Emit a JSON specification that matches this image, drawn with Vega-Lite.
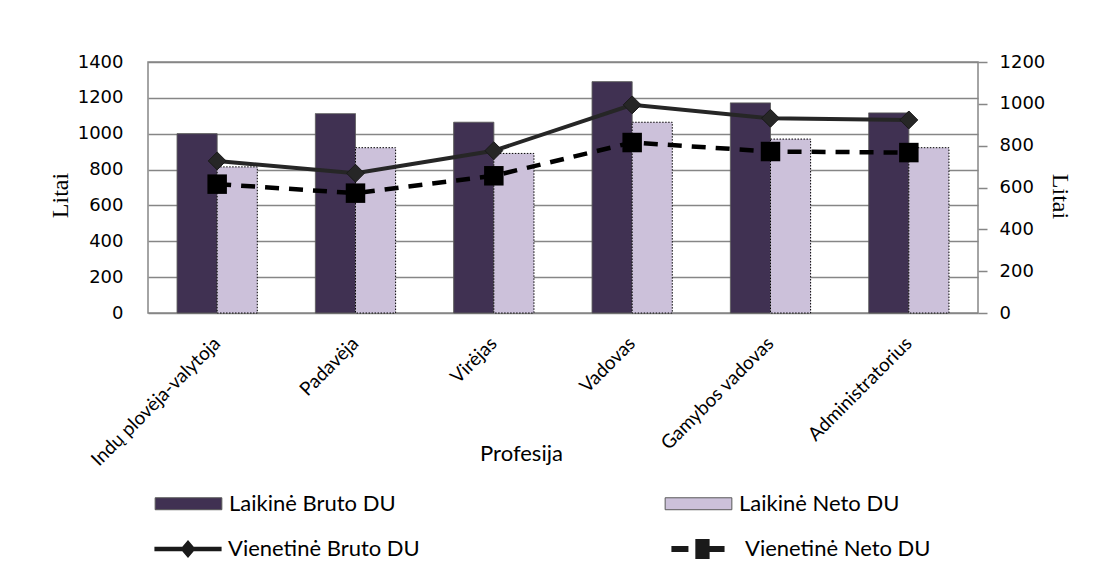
{
  "$schema": "https://vega.github.io/schema/vega-lite/v6.json",
  "width": 830,
  "height": 251,
  "autosize": {"type": "none"},
  "padding": {"left": 148, "top": 62, "right": 116, "bottom": 260},
  "background": "white",
  "config": {
    "view": {"stroke": "#868686", "strokeWidth": 1.5},
    "font": "Lato"
  },
  "data": {
    "values": [
      {"profesija": "Indų plovėja-valytoja", "serija": "Laikinė Bruto DU", "litai": 1000},
      {"profesija": "Indų plovėja-valytoja", "serija": "Laikinė Neto DU", "litai": 815},
      {"profesija": "Indų plovėja-valytoja", "serija": "Vienetinė Bruto DU", "litai": 727},
      {"profesija": "Indų plovėja-valytoja", "serija": "Vienetinė Neto DU", "litai": 616},
      {"profesija": "Padavėja", "serija": "Laikinė Bruto DU", "litai": 1112},
      {"profesija": "Padavėja", "serija": "Laikinė Neto DU", "litai": 922},
      {"profesija": "Padavėja", "serija": "Vienetinė Bruto DU", "litai": 668},
      {"profesija": "Padavėja", "serija": "Vienetinė Neto DU", "litai": 573},
      {"profesija": "Virėjas", "serija": "Laikinė Bruto DU", "litai": 1064},
      {"profesija": "Virėjas", "serija": "Laikinė Neto DU", "litai": 890},
      {"profesija": "Virėjas", "serija": "Vienetinė Bruto DU", "litai": 776},
      {"profesija": "Virėjas", "serija": "Vienetinė Neto DU", "litai": 656},
      {"profesija": "Vadovas", "serija": "Laikinė Bruto DU", "litai": 1290},
      {"profesija": "Vadovas", "serija": "Laikinė Neto DU", "litai": 1064},
      {"profesija": "Vadovas", "serija": "Vienetinė Bruto DU", "litai": 995},
      {"profesija": "Vadovas", "serija": "Vienetinė Neto DU", "litai": 815},
      {"profesija": "Gamybos vadovas", "serija": "Laikinė Bruto DU", "litai": 1172},
      {"profesija": "Gamybos vadovas", "serija": "Laikinė Neto DU", "litai": 970},
      {"profesija": "Gamybos vadovas", "serija": "Vienetinė Bruto DU", "litai": 931},
      {"profesija": "Gamybos vadovas", "serija": "Vienetinė Neto DU", "litai": 772},
      {"profesija": "Administratorius", "serija": "Laikinė Bruto DU", "litai": 1116},
      {"profesija": "Administratorius", "serija": "Laikinė Neto DU", "litai": 922},
      {"profesija": "Administratorius", "serija": "Vienetinė Bruto DU", "litai": 923},
      {"profesija": "Administratorius", "serija": "Vienetinė Neto DU", "litai": 767}
    ]
  },
  "encoding": {
    "x": {
      "field": "profesija",
      "type": "nominal",
      "sort": null,
      "scale": {"paddingInner": 0.42, "paddingOuter": 0.21},
      "axis": {
        "title": "Profesija",
        "labelAngle": -45,
        "labelAlign": "right",
        "labelBaseline": "middle",
        "labelPadding": 27,
        "ticks": false,
        "domain": false,
        "labelFont": "Lato",
        "labelFontSize": 19,
        "labelColor": "#000",
        "labelLimit": 400,
        "titleFont": "Lato",
        "titleFontSize": 22,
        "titleFontWeight": "normal",
        "titleColor": "#000",
        "titleX": 373,
        "titleY": 140,
        "titleBaseline": "middle"
      }
    }
  },
  "layer": [
    {
      "transform": [{"filter": {"field": "serija", "oneOf": ["Laikinė Bruto DU", "Laikinė Neto DU"]}}],
      "mark": {"type": "bar", "strokeWidth": 1, "opacity": 1},
      "encoding": {
        "xOffset": {"field": "serija", "type": "nominal", "sort": ["Laikinė Bruto DU", "Laikinė Neto DU"]},
        "y": {
          "field": "litai",
          "type": "quantitative",
          "scale": {"domain": [0, 1400], "nice": false},
          "axis": {
            "orient": "left",
            "title": "Litai",
            "values": [0, 200, 400, 600, 800, 1000, 1200, 1400],
            "format": "d",
            "grid": true,
            "gridColor": "#868686",
            "gridWidth": 1.5,
            "domain": false,
            "ticks": false,
            "tickSize": 0,
            "labelPadding": 25,
            "labelFont": "DejaVu Sans",
            "labelFontSize": 18,
            "labelColor": "#000",
            "titleFont": "Liberation Serif",
            "titleFontSize": 24,
            "titleFontWeight": "normal",
            "titleColor": "#000",
            "titlePadding": 5,
            "titleY": 133
          }
        },
        "color": {
          "field": "serija",
          "type": "nominal",
          "scale": {
            "domain": ["Laikinė Bruto DU", "Laikinė Neto DU"],
            "range": ["#403152", "#ccc1da"]
          },
          "legend": {
            "orient": "none",
            "direction": "horizontal",
            "legendX": 17,
            "legendY": 418,
            "columns": 2,
            "columnPadding": 267,
            "padding": 0,
            "title": null,
            "symbolSize": 2116,
            "symbolType": "M-1.45,-0.26H1.45V0.26H-1.45Z",
            "symbolStrokeWidth": 1,
            "symbolStrokeColor": "#595959",
            "symbolOpacity": 1,
            "labelOffset": 17,
            "labelFont": "Lato",
            "labelFontSize": 22,
            "labelColor": "#000",
            "labelLimit": 400
          }
        },
        "stroke": {
          "condition": {"test": "datum.serija == 'Laikinė Neto DU'", "value": "#000000"},
          "value": "#595959"
        },
        "strokeDash": {
          "condition": {"test": "datum.serija == 'Laikinė Neto DU'", "value": [1.5, 1.5]},
          "value": [1, 0]
        }
      }
    },
    {
      "encoding": {
        "y": {
          "field": "litai",
          "type": "quantitative",
          "scale": {"domain": [0, 1200], "nice": false},
          "axis": {
            "orient": "right",
            "title": "Litai",
            "values": [0, 200, 400, 600, 800, 1000, 1200],
            "format": "d",
            "grid": false,
            "domain": false,
            "ticks": true,
            "tickSize": 9,
            "tickColor": "#868686",
            "tickWidth": 1.5,
            "labelPadding": 12,
            "labelFont": "DejaVu Sans",
            "labelFontSize": 18,
            "labelColor": "#000",
            "titleFont": "Liberation Serif",
            "titleFontSize": 24,
            "titleFontWeight": "normal",
            "titleColor": "#000",
            "titlePadding": 3,
            "titleY": 134
          }
        }
      },
      "layer": [
        {
          "transform": [{"filter": {"field": "serija", "equal": "Vienetinė Bruto DU"}}],
          "mark": {"type": "line", "strokeWidth": 4, "color": "#262626"}
        },
        {
          "transform": [{"filter": {"field": "serija", "equal": "Vienetinė Neto DU"}}],
          "mark": {"type": "line", "strokeWidth": 4.5, "strokeDash": [14, 10], "color": "#000000"}
        },
        {
          "transform": [{"filter": {"field": "serija", "equal": "Vienetinė Bruto DU"}}],
          "mark": {"type": "point", "shape": "diamond", "filled": true, "size": 320, "opacity": 1, "color": "#262626", "stroke": "#1a1a1a", "strokeWidth": 1}
        },
        {
          "transform": [{"filter": {"field": "serija", "equal": "Vienetinė Neto DU"}}],
          "mark": {"type": "point", "shape": "square", "filled": true, "size": 380, "opacity": 1, "color": "#000000"}
        },
        {
          "transform": [{"filter": {"field": "serija", "oneOf": ["Vienetinė Bruto DU", "Vienetinė Neto DU"]}}],
          "mark": {"type": "point", "filled": true, "opacity": 0, "color": "#1a1a1a"},
          "encoding": {
            "shape": {
              "field": "serija",
              "type": "nominal",
              "scale": {
                "domain": ["Vienetinė Bruto DU", "Vienetinė Neto DU"],
                "range": [
                  "M-1.46,-0.1H1.46V0.1H-1.46Z M0,-0.39L0.33,0L0,0.39L-0.33,0Z",
                  "M-1.46,-0.13H-0.72V0.13H-1.46Z M-0.42,-0.43H0.2V0.43H-0.42Z M0.2,-0.13H0.85V0.13H0.2Z"
                ]
              },
              "legend": {
                "orient": "none",
                "direction": "horizontal",
                "legendX": 17,
                "legendY": 464,
                "columns": 2,
                "columnPadding": 251,
                "padding": 0,
                "title": null,
                "symbolSize": 2116,
                "symbolOpacity": 1,
                "symbolFillColor": "#1a1a1a",
                "symbolStrokeWidth": 0,
                "labelOffset": 17,
                "labelFont": "Lato",
                "labelFontSize": 22,
                "labelColor": "#000",
                "labelLimit": 400,
                "labelExpr": "datum.label == 'Vienetinė Neto DU' ? '\u00a0' + datum.label : datum.label"
              }
            }
          }
        }
      ]
    }
  ],
  "resolve": {"scale": {"y": "independent"}}
}
